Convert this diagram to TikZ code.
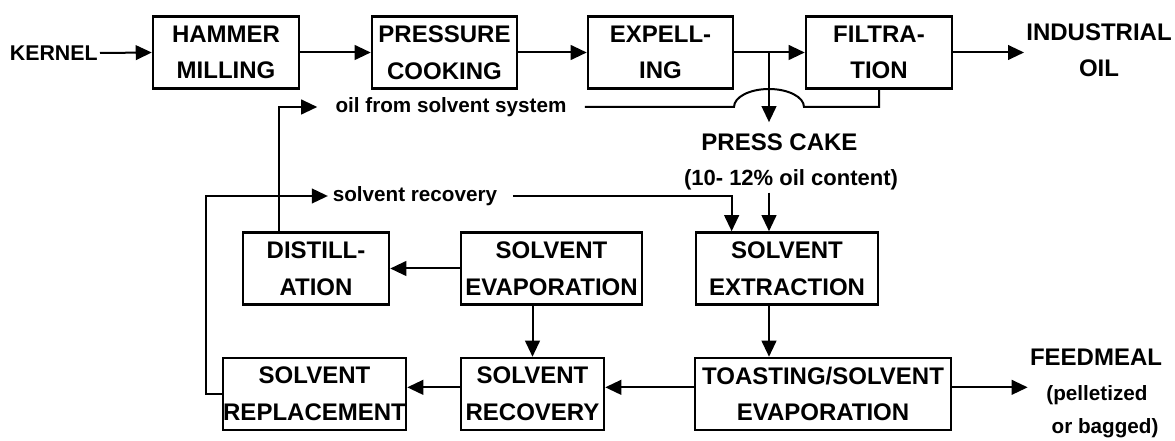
\documentclass[tikz,border=0pt]{standalone}
\usepackage{fontspec}
\setmainfont{Liberation Sans}
\usetikzlibrary{arrows.meta,calc}

\begin{document}
\begin{tikzpicture}[x=0.75pt,y=-0.75pt,line width=1.5pt,
    box/.style={draw,line width=1.9pt,inner sep=0pt,minimum height=54pt,align=center,font=\fontsize{18}{27.5}\selectfont\bfseries},
    big/.style={inner sep=1pt,align=center,font=\fontsize{18}{27}\selectfont\bfseries},
    small/.style={inner sep=1pt,font=\fontsize{15.5}{18}\selectfont\bfseries},
    flow/.style={-{Triangle[length=12pt,width=11pt]}}]
    \useasboundingbox (0,0) rectangle (1175,441);

    % top row
    \node[big,anchor=east,font=\fontsize{16}{18}\selectfont\bfseries] (kernel) at (100,53) {KERNEL};
    \node[box,minimum width=109.5pt] (mill) at (226,52.5) {HAMMER\\MILLING};
    \node[box,minimum width=108.75pt] (cook) at (444.5,52.5) {PRESSURE\\COOKING};
    \node[box,minimum width=108.75pt] (expel) at (660.5,52.5) {EXPELL-\\ING};
    \node[box,minimum width=109.5pt] (filt) at (879,52.5) {FILTRA-\\TION};
    \node[big] (oilout) at (1099,50) {INDUSTRIAL\\OIL};
    \node[small,inner xsep=13pt] (oilsys) at (451,107) {oil from solvent system};
    \node[big] (presscake) at (779.5,142) {PRESS CAKE};
    \node[small,font=\fontsize{16.5}{18}\selectfont\bfseries] (cakeoil) at (791,180) {(10- 12\% oil content)};
    \node[small,inner xsep=3pt] (solvrec) at (415,196) {solvent recovery};

    % solvent boxes
    \node[box,minimum width=109.5pt] (dist) at (316,268.5) {DISTILL-\\ATION};
    \node[box,minimum width=135.75pt] (evap) at (551.5,268.5) {SOLVENT\\EVAPORATION};
    \node[box,minimum width=136.5pt] (extr) at (787,268.5) {SOLVENT\\EXTRACTION};
    \node[box,minimum width=137.25pt] (repl) at (314.5,394) {SOLVENT\\REPLACEMENT};
    \node[box,minimum width=107.25pt] (reco) at (532.5,394) {SOLVENT\\RECOVERY};
    \node[box,minimum width=192pt] (toast) at (823,394) {TOASTING/SOLVENT\\EVAPORATION};
    \node[big] (feed) at (1096,357) {FEEDMEAL};
    \node[small] (pellet) at (1097,395) {(pelletized};
    \node[small] (bagged) at (1105,428) {or bagged)};

    \coordinate (cakecol) at (769,52.5);
    \coordinate (solvleft) at (206,196);

    \draw[flow] (kernel.east) -- (mill.west);
    \draw[flow] (mill) -- (cook);
    \draw[flow] (cook) -- (expel);
    \draw[flow] (expel) -- (filt);
    \draw[flow] (filt.east) -- (filt.east -| oilout.west);
    \draw[flow,shorten >=6.75pt] (expel.east -| cakecol) -- (cakecol |- presscake.north);
    \draw (filt.south) |- ($(cakecol |- oilsys.east)+(35,0)$) arc[start angle=0,end angle=-180,x radius=35,y radius=18] -- (oilsys.east);
    \draw[flow] ($(dist.north west)!0.25!(dist.north east)$) |- (oilsys.west);
    \draw[flow] (repl.west) -| (solvleft) -- (solvrec.west);
    \draw[flow] ([xshift=8pt]solvrec.east) -| ($(extr.north west)!0.2!(extr.north east)$);
    \draw[flow] (cakeoil.south -| cakecol) -- (extr.north -| cakecol);
    \draw[flow] (evap) -- (dist);
    \draw[flow] (evap.south -| reco) -- (reco);
    \draw[flow] (extr.south -| cakecol) -- (toast.north -| cakecol);
    \draw[flow] ([yshift=5pt]toast.west) -- ([yshift=5pt]reco.east);
    \draw[flow] ([yshift=5pt]reco.west) -- ([yshift=5pt]repl.east);
    \draw[flow] ([yshift=5pt]toast.east) -- ([yshift=5pt]toast.east -| feed.west);
\end{tikzpicture}
\end{document}
